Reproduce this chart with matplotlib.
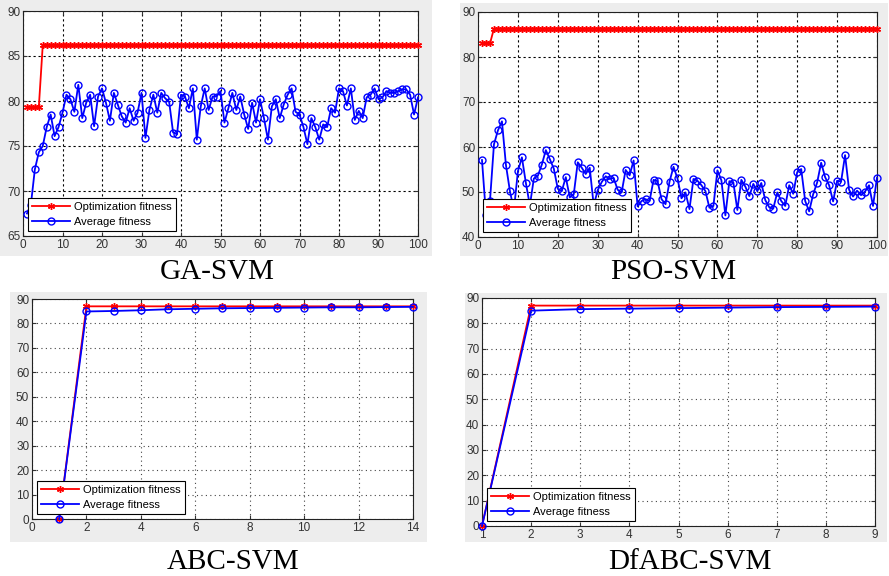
import numpy as np
import matplotlib.pyplot as plt
from matplotlib.patches import Rectangle

plt.rcParams['font.family'] = ['Liberation Sans', 'DejaVu Sans']

# ---- data ----
ga_x = np.arange(1, 101)
ga_opt = [79.3] * 4 + [86.2] * 96
ga_avg = [67.5, 68.5, 72.4, 74.3, 75.0, 77.1, 78.5, 76.1, 77.1, 78.7,
          80.7, 80.2, 78.8, 81.8, 78.1, 79.8, 80.7, 77.2, 80.5, 81.4,
          79.8, 77.8, 80.9, 79.6, 78.3, 77.6, 79.2, 77.8, 78.7, 80.9,
          75.9, 79.0, 80.7, 78.7, 80.9, 80.3, 79.9, 76.5, 76.3, 80.7,
          80.5, 79.2, 81.4, 75.7, 79.4, 81.4, 79.0, 80.5, 80.5, 81.1,
          77.6, 79.2, 80.9, 79.0, 80.5, 78.5, 76.9, 79.8, 77.6, 80.2,
          78.1, 75.7, 79.4, 80.2, 78.1, 79.6, 80.7, 81.4, 78.8, 78.5,
          77.1, 75.2, 78.1, 77.1, 75.7, 77.4, 77.1, 79.2, 78.7, 81.4,
          81.1, 79.5, 81.4, 77.9, 78.9, 78.1, 80.4, 80.7, 81.4, 80.2,
          80.4, 81.1, 80.9, 80.9, 81.1, 81.3, 81.3, 80.7, 78.5, 80.4]

pso_x = np.arange(1, 101)
pso_opt = [83.0] * 3 + [86.3] * 97
pso_avg = [57.1, 44.9, 48.0, 60.6, 63.7, 65.7, 56.0, 50.2, 46.0, 54.6,
           57.7, 52.0, 47.0, 53.0, 53.6, 56.1, 59.3, 57.3, 55.2, 50.7,
           50.2, 53.3, 48.8, 49.5, 56.6, 55.4, 54.0, 55.4, 47.0, 50.4,
           52.2, 53.5, 52.9, 53.1, 50.5, 49.9, 54.9, 53.7, 57.0, 46.8,
           48.0, 48.4, 48.0, 52.7, 52.4, 48.4, 47.3, 52.3, 55.6, 53.0,
           48.6, 49.9, 46.2, 52.9, 52.5, 51.5, 50.2, 46.5, 46.9, 54.8,
           52.6, 44.8, 52.4, 52.1, 46.0, 52.7, 51.2, 49.1, 51.8, 50.2,
           52.0, 48.2, 46.6, 46.3, 49.9, 48.0, 46.9, 51.5, 49.6, 54.4,
           55.1, 48.0, 45.7, 49.5, 52.1, 56.5, 53.3, 51.5, 47.9, 52.5,
           52.3, 58.2, 50.5, 49.0, 50.3, 49.3, 50.1, 51.5, 46.9, 53.2]

abc_x = np.arange(1, 15)
abc_opt = [0, 87.0, 87.0, 87.0, 87.0, 87.0, 87.0, 87.0, 87.0, 87.0, 87.0, 87.0, 87.0, 87.0]
abc_avg = [0, 84.9, 85.1, 85.4, 85.8, 86.0, 86.2, 86.3, 86.4, 86.5, 86.6, 86.6, 86.7, 86.8]

df_x = np.arange(1, 10)
df_opt = [0, 87.0, 87.0, 87.0, 87.0, 87.0, 87.0, 87.0, 87.0]
df_avg = [0, 85.0, 85.6, 85.8, 86.0, 86.2, 86.4, 86.5, 86.6]

W, H = 889, 576
fig = plt.figure(figsize=(W / 100, H / 100), dpi=100)
fig.patch.set_facecolor('white')


def px_rect(x0, y0, x1, y1):
    return [x0 / W, 1 - y1 / H, (x1 - x0) / W, (y1 - y0) / H]


def panel(bg, ax_box, title, tx, ty, x, opt, avg, xlim, xticks, ylim, yticks, gridstyle):
    b = px_rect(*bg)
    fig.patches.append(Rectangle((b[0], b[1]), b[2], b[3], transform=fig.transFigure,
                                 facecolor='#ededed', edgecolor='none', zorder=-10))
    ax = fig.add_axes(px_rect(*ax_box))
    ax.set_facecolor('white')
    ax.plot(x, opt, '-', color='red', lw=1.3, marker=(6, 2, 0), ms=5, mew=1.0,
            label='Optimization fitness', clip_on=False, zorder=3)
    ax.plot(x, avg, '-', color='blue', lw=1.3, marker='o', ms=5, mfc='none', mew=1.0,
            label='Average fitness', clip_on=False, zorder=4)
    ax.set_xlim(*xlim)
    ax.set_ylim(*ylim)
    ax.set_xticks(xticks)
    ax.set_yticks(yticks)
    ax.grid(True, color=gridstyle[0], linestyle=(0, gridstyle[1]), lw=0.8)
    ax.tick_params(direction='in', length=3, labelsize=8.5, top=True, right=True,
                   colors='#333333', pad=2)
    for s in ax.spines.values():
        s.set_color('#222222')
        s.set_linewidth(0.8)
    leg = ax.legend(loc='lower left', fontsize=8, handlelength=3.4, borderaxespad=0.45,
                    fancybox=False, framealpha=1, edgecolor='black',
                    borderpad=0.35, handletextpad=0.4)
    leg.get_frame().set_linewidth(0.8)
    fig.text(tx / W, 1 - ty / H, title, family='Liberation Serif', fontsize=21,
             ha='center', va='center')
    return ax


panel((0, 0, 432, 256), (23, 11, 418, 236), 'GA-SVM', 217, 272,
      ga_x, ga_opt, ga_avg, (0, 100), range(0, 101, 10), (65, 90), range(65, 91, 5),
      ('black', (2, 2.5)))
panel((460, 3, 888, 256), (478, 12, 877, 237), 'PSO-SVM', 673, 272,
      pso_x, pso_opt, pso_avg, (0, 100), range(0, 101, 10), (40, 90), range(40, 91, 10),
      ('black', (2, 2.5)))
panel((10, 292, 427, 542), (32, 299, 413, 519), 'ABC-SVM', 233, 562,
      abc_x, abc_opt, abc_avg, (0, 14), range(0, 15, 2), (0, 90), range(0, 91, 10),
      ('#444444', (1, 3)))
panel((465, 293, 887, 542), (482, 298, 875, 526), 'DfABC-SVM', 690, 562,
      df_x, df_opt, df_avg, (1, 9), range(1, 10), (0, 90), range(0, 91, 10),
      ('#444444', (1, 3)))

plt.savefig('out.png', dpi=100)
